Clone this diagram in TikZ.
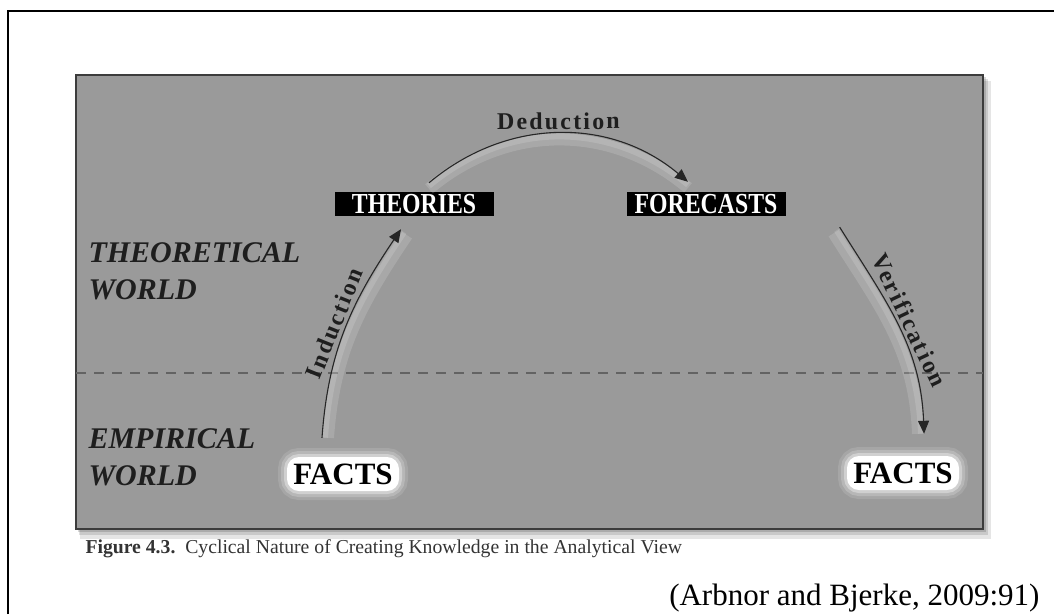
\documentclass[tikz,border=0pt]{standalone}
\usepackage{fontspec}
\setmainfont{Liberation Serif}
\newfontfamily\narrowfont{Liberation Serif}[FakeStretch=0.82]
\newfontfamily\spacedfont{Liberation Serif}[LetterSpace=9,Ligatures=NoCommon]
\usetikzlibrary{arrows.meta}

\definecolor{panelgray}{HTML}{9A9A9A}
\definecolor{rimgray}{HTML}{3C3C3C}
\definecolor{inkgray}{HTML}{1E1E1E}

\tikzset{
  worldlabel/.style={anchor=west, align=left, text=inkgray, font=\fontsize{30}{37}\selectfont\bfseries\itshape},
  blackbox/.style={fill=black, text=white, minimum width=159pt, minimum height=24pt, inner sep=0pt, font=\narrowfont\fontsize{29}{29}\selectfont\bfseries},
  factsbox/.style={fill=white, rounded corners=12pt, minimum width=112pt, minimum height=34pt, text=black, font=\fontsize{31}{31}\selectfont\bfseries,
    preaction={draw=white, line width=18pt, opacity=0.12},
    preaction={draw=white, line width=12pt, opacity=0.2},
    preaction={draw=white, line width=6pt, opacity=0.35}},
  cyclearrow/.style={draw=black!85, line width=1.1pt, -{Triangle[length=13pt,width=11pt]}},
  halo/.style={white, line width=#1, opacity=0.14},
  arclabel/.style={sloped, above, text=inkgray, font=\spacedfont\fontsize{24}{24}\selectfont\bfseries}
}

\begin{document}
\begin{tikzpicture}[x=1pt,y=1pt]
	\useasboundingbox (0,0) rectangle (1054,-614);
	% frame and panel
	\draw[line width=2pt] (8,-614) -- (8,-11) -- (1054,-11);
	\fill[black, opacity=0.1] (80,-81) rectangle (991,-539);
	\fill[black, opacity=0.12] (79,-79) rectangle (988,-535);
	\fill[black, opacity=0.15] (78,-77) rectangle (986,-532);
	\filldraw[fill=panelgray, draw=rimgray, line width=2.5pt] (76,-75) rectangle (983,-529);
	\draw[rimgray!80, line width=1.6pt, dash pattern=on 10pt off 8pt] (76,-373) -- (983,-373);

	\node[worldlabel](theoworld) at (85,-271){THEORETICAL\\WORLD};
	\node[worldlabel](empworld) at (85,-457){EMPIRICAL\\WORLD};
	\node[factsbox](factsL) at (343,-474){FACTS};
	\node[factsbox](factsR) at (903,-473){FACTS};
	\node[blackbox](theories) at (414,-204){THEORIES};
	\node[blackbox](forecasts) at (706,-204){FORECASTS};

	% arrow ends
	\coordinate (indS) at ([shift={(-21,19)}]factsL.north);
	\coordinate (indE) at ([shift={(-13,-13)}]theories.south);
	\coordinate (dedS) at ([shift={(15,9)}]theories.north);
	\coordinate (dedE) at ([shift={(-18,10)}]forecasts.north);
	\coordinate (verS) at ([shift={(54,-11)}]forecasts.south east);
	\coordinate (verE) at ([shift={(21,22)}]factsR.north);

	\foreach \w/\d in {12pt/6, 6pt/3}{
		\draw[halo=\w] ([xshift=\d]indS) to[out=86,in=236] ([shift={(\d,-\d)}]indE);
		\draw[halo=\w] ([yshift=-\d]dedS) to[out=40,in=140] ([yshift=-\d]dedE);
		\draw[halo=\w] ([shift={(-\d,-\d)}]verS) to[out=-58,in=92] ([xshift=-\d]verE);
	}

	\draw[cyclearrow] (indS) to[out=86,in=236] node[arclabel]{Induction} (indE);
	\draw[cyclearrow] (dedS) to[out=40,in=140] node[arclabel]{Deduction} (dedE);
	\draw[cyclearrow] (verS) to[out=-58,in=92] node[arclabel]{Verification} (verE);

	\node[anchor=base west, text=black!80, font=\fontsize{19.7}{20}\selectfont](caption) at (82,-553){\textbf{Figure 4.3.}\enspace Cyclical Nature of Creating Knowledge in the Analytical View};
	\node[anchor=base east, font=\fontsize{31}{31}\selectfont](source) at (1043,-605){(Arbnor and Bjerke, 2009:91)};
\end{tikzpicture}
\end{document}
